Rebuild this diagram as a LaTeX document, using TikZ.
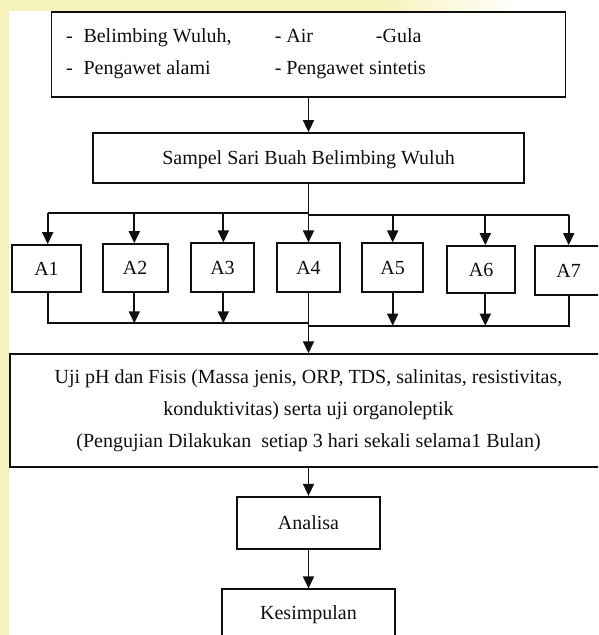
\documentclass[tikz,border=0pt]{standalone}
\usepackage{fontspec}
\setmainfont{Liberation Serif}
\usetikzlibrary{arrows.meta}
\definecolor{bgyel}{RGB}{246,243,188}
\definecolor{ink}{RGB}{15,15,15}
\tikzset{
  every node/.style={font=\fontsize{20}{31.6}\selectfont, text=ink},
  box/.style={draw=ink, line width=1.8pt, fill=white, inner sep=0pt, text height=13.3pt, text depth=0pt},
  bigbox/.style={draw=ink, line width=1.8pt, fill=white, inner sep=0pt, align=center},
  txt/.style={anchor=base west, inner sep=0pt},
  conn/.style={draw=ink, line width=1.7pt},
  arr/.style={conn, -{Triangle[length=12pt,width=11pt]}}
}
\begin{document}
\begin{tikzpicture}[x=1pt,y=-1pt]
\useasboundingbox (0,0) rectangle (598,635);
\clip (0,0) rectangle (598,635);
% background watermark strips
\fill[bgyel] (0,0) rectangle (598,635);
\shade[left color=bgyel, right color=white] (380,0) rectangle (520,11);
\fill[white] (520,0) rectangle (598,11);
\fill[white] (9,11) rectangle (598,635);

% top box with ingredient list
\node[bigbox, minimum width=514pt, minimum height=85pt] (top) at (308.5,54.7) {};
\node[txt] (d1) at (66,42.7) {-};
\node[txt] (t1) at (83.3,42.7) {Belimbing Wuluh,};
\node[txt] (t2) at (274.6,42.7) {- Air};
\node[txt] (t3) at (375.7,42.7) {-Gula};
\node[txt] (d2) at (66,74) {-};
\node[txt] (t4) at (83.3,74) {Pengawet alami};
\node[txt] (t5) at (274.6,74) {- Pengawet sintetis};

\node[box, minimum width=431pt, minimum height=50pt] (sampel) at (308.5,158) {Sampel Sari Buah Belimbing Wuluh};

% treatment boxes
\node[box, minimum width=69pt, minimum height=47.3pt] (a1) at (46.5,268.7) {A1};
\node[box, minimum width=65pt, minimum height=48.3pt] (a2) at (135.2,268.2) {A2};
\node[box, minimum width=63.6pt, minimum height=49pt] (a3) at (222.5,267.8) {A3};
\node[box, minimum width=63.7pt, minimum height=49pt] (a4) at (308.5,267.8) {A4};
\node[box, minimum width=60.7pt, minimum height=49pt] (a5) at (392.7,267.8) {A5};
\node[box, minimum width=67.7pt, minimum height=47.3pt] (a6) at (481.2,269.7) {A6};
\node[box, minimum width=68pt, minimum height=49pt] (a7) at (568.7,270.5) {A7};

\node[bigbox, minimum width=597.4pt, minimum height=113pt] (uji) at (308.5,410.7)
  {Uji pH dan Fisis (Massa jenis, ORP, TDS, salinitas, resistivitas,\\
   konduktivitas) serta uji organoleptik\\
   (Pengujian Dilakukan \ setiap 3 hari sekali selama1 Bulan)};

\node[box, minimum width=143.7pt, minimum height=52.3pt] (analisa) at (308.5,522.9) {Analisa};
\node[box, minimum width=173pt, minimum height=48pt] (kesimpulan) at (308.5,613.3) {Kesimpulan};

% main axis
\draw[arr] (top) -- (sampel);
\draw[arr] (sampel) -- (a4);
\draw[arr] (a4) -- (uji);
\draw[arr] (uji) -- (analisa);
\draw[arr] (analisa) -- (kesimpulan);

% distribution bus
\coordinate (b1) at (47.7,213.3);
\coordinate (b2) at (134.3,213.3);
\coordinate (b3) at (223.3,213.3);
\coordinate (bm) at (308.5,213.3);
\coordinate (bm2) at (308.5,215);
\coordinate (b5) at (392.7,215);
\coordinate (b6) at (485.3,215);
\coordinate (b7) at (568.7,215);
\draw[conn] (b1) -- (bm);
\draw[conn] (bm2) -- (b7);
\draw[arr] (b1) -- (b1 |- a1.north);
\draw[arr] (b2) -- (b2 |- a2.north);
\draw[arr] (b3) -- (b3 |- a3.north);
\draw[arr] (b5) -- (b5 |- a5.north);
\draw[arr] (b6) -- (b6 |- a6.north);
\draw[arr] (b7) -- (b7 |- a7.north);

% collection bus
\coordinate (c1) at (47.7,323.3);
\coordinate (c2) at (134.3,323.3);
\coordinate (c3) at (223.3,323.3);
\coordinate (cm) at (308.5,323.3);
\coordinate (cm2) at (308.5,325.7);
\coordinate (c5) at (392.7,325.7);
\coordinate (c6) at (485.3,325.7);
\coordinate (c7) at (568.7,325.7);
\draw[conn] (c1 |- a1.south) -- (c1) -- (cm);
\draw[conn] (c7 |- a7.south) -- (c7) -- (cm2);
\draw[arr] (c2 |- a2.south) -- (c2);
\draw[arr] (c3 |- a3.south) -- (c3);
\draw[arr] (c5 |- a5.south) -- (c5);
\draw[arr] (c6 |- a6.south) -- (c6);
\end{tikzpicture}
\end{document}
